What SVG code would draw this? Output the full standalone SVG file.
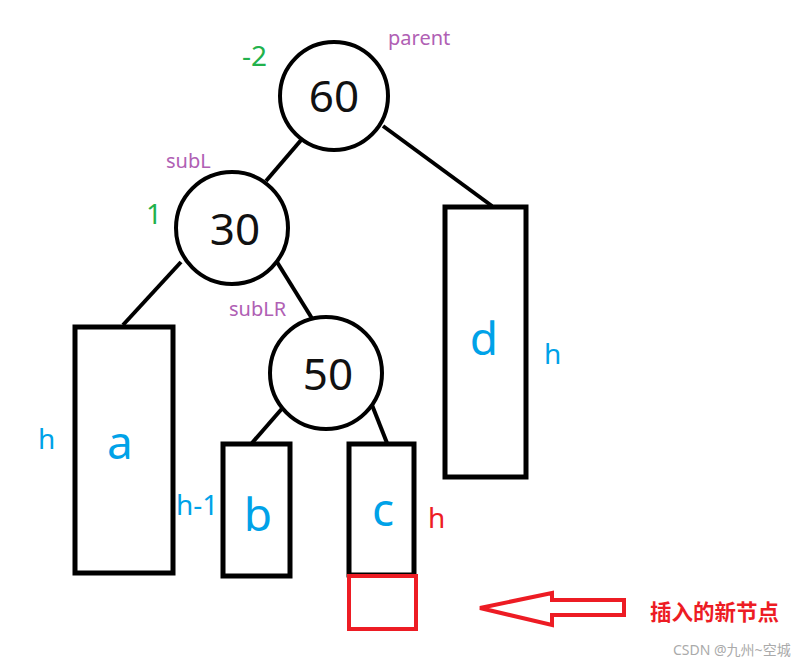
<svg xmlns="http://www.w3.org/2000/svg" width="811" height="665" viewBox="0 0 811 665">
<style>
.nd{fill:#fff;stroke:#000;stroke-width:4}
.bx{fill:#fff;stroke:#000;stroke-width:5}
.num{font-family:"Noto Sans","Open Sans",sans-serif;font-size:44px;fill:#111;text-anchor:middle}
.lt{font-family:"Noto Sans","Open Sans",sans-serif;font-size:46px;fill:#00a2e8;text-anchor:middle}
.hb{font-family:"Noto Sans","Open Sans",sans-serif;font-size:28px;fill:#00a2e8}
.pu{font-family:"Noto Sans","Open Sans",sans-serif;font-size:19px;fill:#b060b4}
.gr{font-family:"Noto Sans","Open Sans",sans-serif;font-size:28px;fill:#22b14c}
.cn{stroke:#000;stroke-width:4;fill:none}
</style>
<rect width="811" height="665" fill="#fff"/>
<g id="connectors">
<line class="cn" x1="266" y1="181" x2="302" y2="139"/>
<line class="cn" x1="383" y1="126" x2="492" y2="206"/>
<line class="cn" x1="181" y1="262" x2="123" y2="325"/>
<line class="cn" x1="277" y1="262" x2="313" y2="320"/>
<line class="cn" x1="286" y1="404" x2="252" y2="443"/>
<line class="cn" x1="372" y1="405" x2="387" y2="443"/>
</g>
<g id="n60">
<circle class="nd" cx="334" cy="96" r="54"/>
<text class="num" x="334" y="112">60</text>
</g>
<g id="n30">
<circle class="nd" cx="232" cy="228" r="56"/>
<text class="num" x="235" y="245">30</text>
</g>
<g id="n50">
<circle class="nd" cx="326" cy="373" r="56"/>
<text class="num" x="328" y="390">50</text>
</g>
<g id="a">
<rect class="bx" x="75" y="327" width="98" height="246"/>
<text class="lt" x="120" y="459">a</text>
</g>
<g id="b">
<rect class="bx" x="223" y="444" width="67" height="132"/>
<text class="lt" x="258" y="531">b</text>
</g>
<g id="c">
<rect class="bx" x="349" y="444" width="65" height="131"/>
<text class="lt" x="383" y="526">c</text>
</g>
<g id="d">
<rect class="bx" x="445" y="207" width="81" height="270"/>
<text class="lt" x="484" y="355">d</text>
</g>
<g id="newnode">
<rect x="349" y="576" width="67" height="53" fill="none" stroke="#ed1c24" stroke-width="4"/>
</g>
<g id="labels">
<text class="gr" x="242" y="66">-2</text>
<text class="pu" x="388" y="45" style="font-size:20px">parent</text>
<text class="pu" x="166" y="168" style="font-size:20px">subL</text>
<text class="gr" x="146" y="224">1</text>
<text class="pu" x="229" y="316" style="font-size:20px">subLR</text>
<text class="hb" x="38" y="449">h</text>
<text class="hb" x="176" y="515">h-1</text>
<text class="hb" x="544" y="364">h</text>
<text class="hb" x="428" y="528" style="fill:#ed1c24">h</text>
</g>
<g id="arrow">
<polygon points="480,608 552,593 552,600 624,600 624,615 552,615 552,625" fill="none" stroke="#ed1c24" stroke-width="4" stroke-linejoin="miter"/>
<text x="650" y="620" font-family="'Noto Sans CJK SC',sans-serif" font-size="21.5" font-weight="bold" fill="#ed1c24">插入的新节点</text>
</g>
<text x="673" y="655" font-family="'Noto Sans','Noto Sans CJK SC',sans-serif" font-size="14" fill="#aaa">CSDN @九州~空城</text>
</svg>
